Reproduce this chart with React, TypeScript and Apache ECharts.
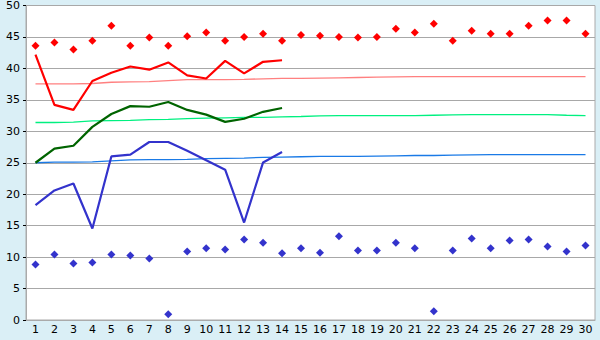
import React, { useEffect, useRef } from "react";
import * as echarts from "echarts";

const categories = Array.from({ length: 30 }, (_, i) => String(i + 1));

const redLine = [42.2, 34.2, 33.4, 38.0, 39.3, 40.3, 39.8, 40.95, 38.9, 38.4, 41.2, 39.2, 41.05, 41.3];
const greenLine = [25.0, 27.25, 27.7, 30.7, 32.75, 34.0, 33.9, 34.65, 33.4, 32.65, 31.5, 32.0, 33.1, 33.7];
const blueLine = [18.25, 20.6, 21.7, 14.55, 26.0, 26.3, 28.3, 28.3, 26.9, 25.4, 23.9, 15.5, 25.05, 26.7];

const pinkAvg = [37.55, 37.55, 37.55, 37.6, 37.8, 37.85, 37.9, 38.05, 38.2, 38.2, 38.2, 38.25, 38.35, 38.4, 38.4, 38.45, 38.5, 38.55, 38.6, 38.65, 38.7, 38.7, 38.7, 38.7, 38.7, 38.7, 38.7, 38.7, 38.7, 38.7];
const lightGreenAvg = [31.4, 31.4, 31.45, 31.65, 31.7, 31.75, 31.85, 31.9, 32.0, 32.1, 32.15, 32.2, 32.2, 32.3, 32.35, 32.45, 32.5, 32.5, 32.5, 32.5, 32.5, 32.55, 32.6, 32.65, 32.65, 32.65, 32.65, 32.65, 32.55, 32.5];
const lightBlueAvg = [25.0, 25.1, 25.1, 25.15, 25.3, 25.45, 25.5, 25.5, 25.55, 25.65, 25.7, 25.75, 25.85, 25.9, 25.95, 26.0, 26.0, 26.0, 26.05, 26.1, 26.15, 26.15, 26.2, 26.25, 26.3, 26.3, 26.3, 26.3, 26.3, 26.3];

const redPoints = [43.6, 44.1, 43.0, 44.4, 46.8, 43.6, 44.9, 43.6, 45.1, 45.7, 44.4, 45.0, 45.5, 44.4, 45.3, 45.2, 45.0, 44.9, 45.0, 46.3, 45.7, 47.1, 44.4, 46.0, 45.5, 45.5, 46.8, 47.6, 47.6, 45.5];
const bluePoints = [8.84, 10.4, 9.0, 9.15, 10.4, 10.26, 9.79, 0.9, 10.9, 11.4, 11.2, 12.8, 12.3, 10.6, 11.4, 10.7, 13.3, 11.06, 11.06, 12.3, 11.4, 1.38, 11.06, 12.96, 11.4, 12.65, 12.8, 11.7, 10.9, 11.85];

const yMin = 0;
const yMax = 50;
const yInterval = 5;

export default function App() {
  const ref = useRef<HTMLDivElement>(null);
  useEffect(() => {
    if (!ref.current) return;
    const chart = echarts.init(ref.current, null, { renderer: "svg" });
    const font = "DejaVu Sans";
    const thin = (data: number[], color: string) => ({
      type: "line",
      data,
      showSymbol: false,
      symbol: "none",
      lineStyle: { color, width: 1.3 },
      z: 2,
    });
    const main = (data: number[], color: string) => ({
      type: "line",
      data,
      showSymbol: false,
      symbol: "none",
      lineStyle: { color, width: 2.2 },
      z: 3,
    });
    const pts = (data: number[], color: string) => ({
      type: "scatter",
      data,
      symbol: "diamond",
      symbolSize: 8,
      itemStyle: { color, opacity: 1 },
      z: 4,
    });
    chart.setOption({
      animation: false,
      backgroundColor: "#daeff6",
      grid: {
        left: 26,
        right: 5,
        top: 5,
        bottom: 20,
        show: true,
        backgroundColor: "#ffffff",
        borderColor: "#aaaaaa",
        borderWidth: 1,
      },
      xAxis: {
        type: "category",
        data: categories,
        boundaryGap: true,
        axisLine: { lineStyle: { color: "#aaaaaa" } },
        axisTick: { alignWithLabel: true, length: 5, lineStyle: { color: "#000" } },
        axisLabel: { color: "#000", fontFamily: font, fontSize: 11, margin: 4, interval: 0 },
        splitLine: { show: false },
      },
      yAxis: {
        type: "value",
        min: yMin,
        max: yMax,
        interval: yInterval,
        axisLine: { show: true, lineStyle: { color: "#aaaaaa" } },
        axisTick: { show: true, length: 3, lineStyle: { color: "#000" } },
        axisLabel: { color: "#000", fontFamily: font, fontSize: 11, margin: 6 },
        splitLine: { lineStyle: { color: "#a8a8a8", width: 1 } },
      },
      series: [
        thin(pinkAvg, "#ff8080"),
        thin(lightGreenAvg, "#00f080"),
        thin(lightBlueAvg, "#1a7ae6"),
        main(redLine, "#ff0000"),
        main(greenLine, "#006400"),
        main(blueLine, "#3333cc"),
        pts(redPoints, "#ff0000"),
        pts(bluePoints, "#3333cc"),
      ],
    });
    return () => chart.dispose();
  }, []);
  return (
    <div
      ref={ref}
      style={{ position: "fixed", left: 0, top: 0, width: 600, height: 340 }}
    />
  );
}
